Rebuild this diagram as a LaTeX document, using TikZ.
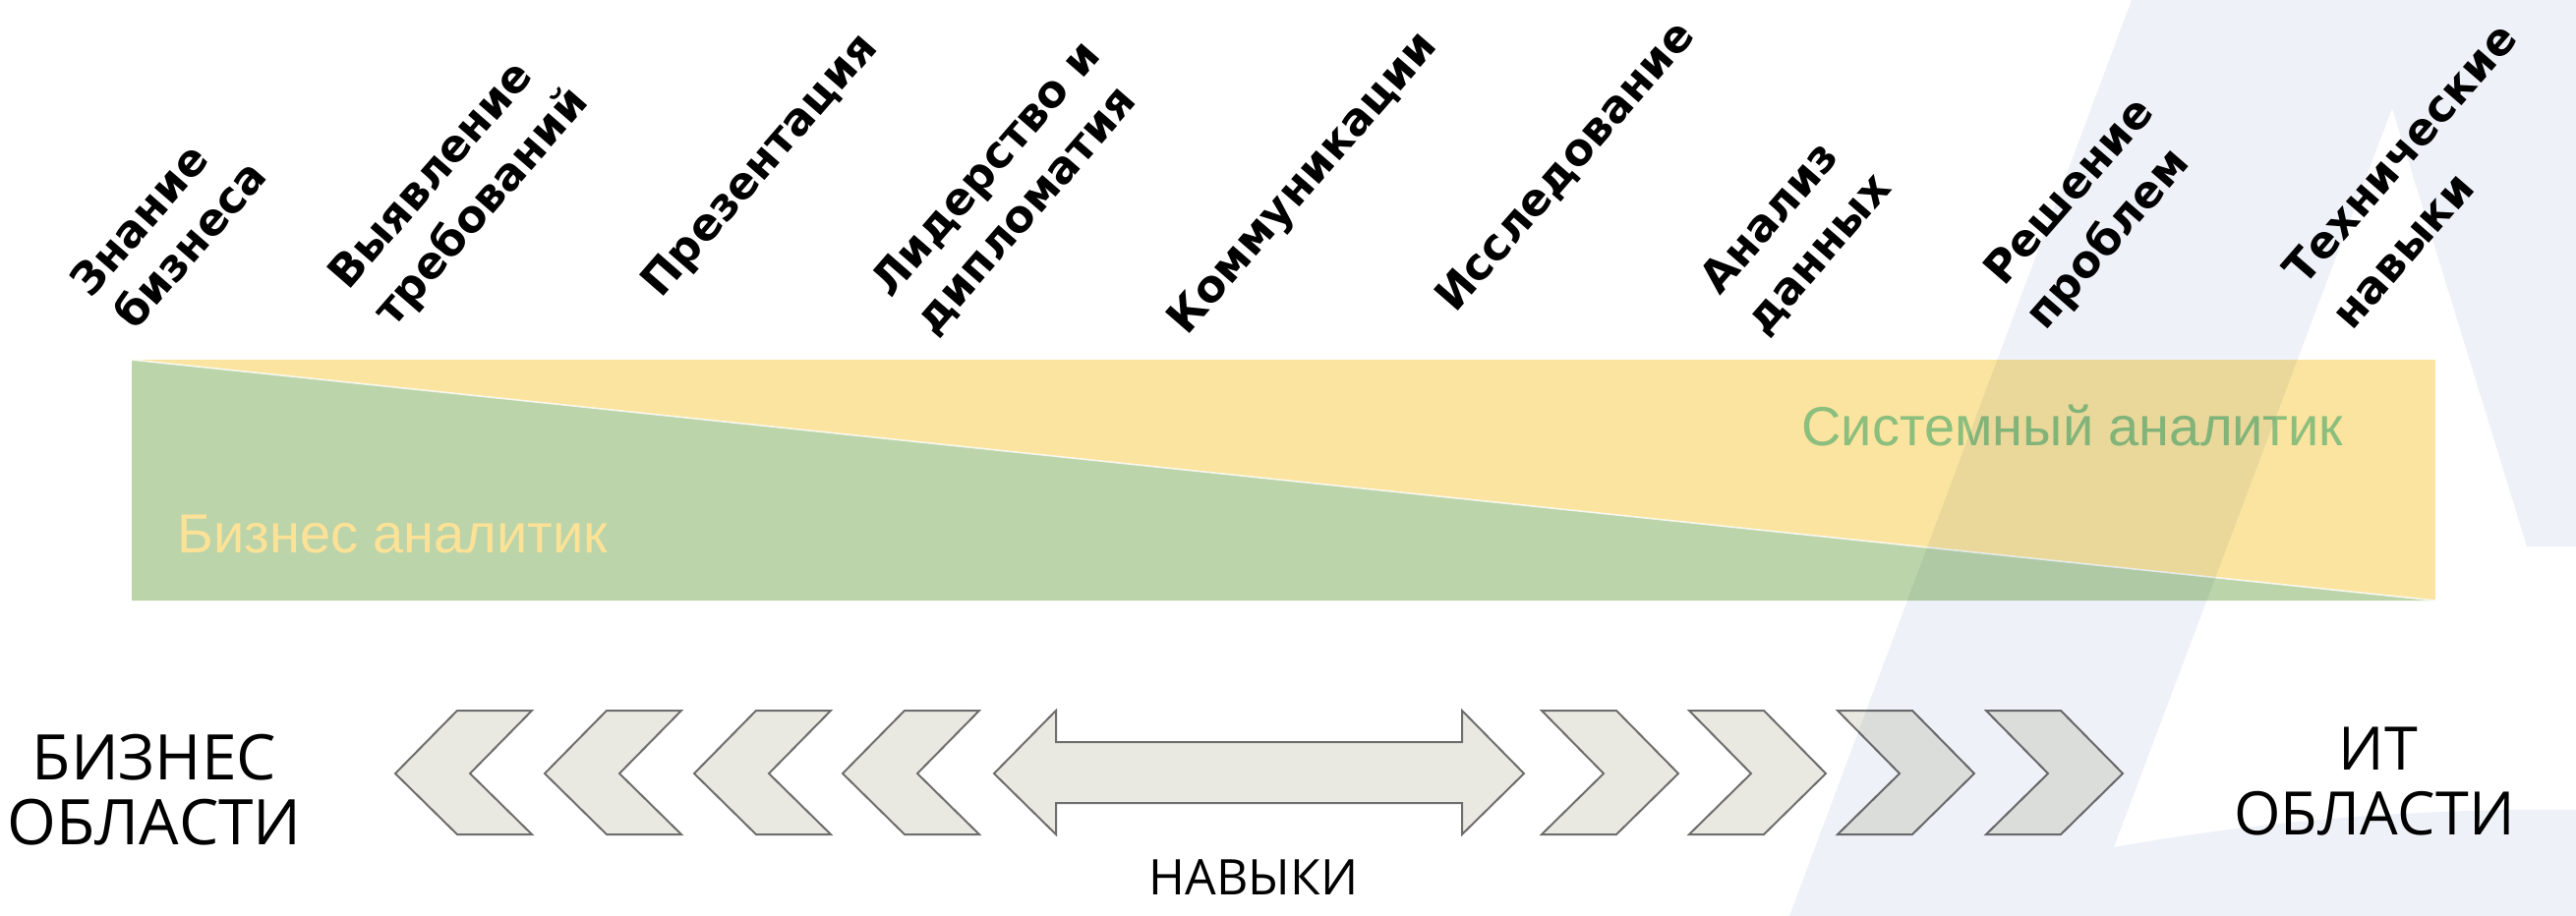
\documentclass[tikz,border=0pt]{standalone}
\usepackage{fontspec}
\setmainfont{Open Sans}
\newfontfamily\lblfont{DejaVu Sans}
\newfontfamily\bandfont{Liberation Sans}
\newfontfamily\regfont{Open Sans}
\definecolor{bandY}{RGB}{251,228,160}
\definecolor{bandG}{RGB}{188,212,170}
\definecolor{txtY}{RGB}{252,226,150}
\definecolor{txtG}{RGB}{140,190,125}
\definecolor{chevfill}{RGB}{234,233,225}
\definecolor{chevline}{RGB}{110,110,110}
\definecolor{wm}{RGB}{238,242,248}
\tikzset{
  lbl/.style={font=\lblfont\bfseries\fontsize{22.5}{26}\selectfont, rotate=49, anchor=base west, inner sep=0pt},
  bandtxt/.style={font=\bandfont\fontsize{28}{32}\selectfont, anchor=base west, inner sep=0pt},
  reg/.style={font=\regfont\fontsize{30.5}{34}\selectfont, anchor=base, inner sep=0pt},
  regl/.style={font=\regfont\fontsize{32}{36}\selectfont, anchor=base, inner sep=0pt},
  nav/.style={font=\regfont\fontsize{25}{29}\selectfont, anchor=base, inner sep=0pt},
  chev/.style={fill=chevfill, draw=chevline, line width=1pt, line join=miter},
  chevl/.pic={\path[chev] (0,0) -- (63,-64) -- (139,-64) -- (76,0) -- (139,62) -- (63,62) -- cycle;},
  chevr/.pic={\path[chev] (0,-64) -- (76,-64) -- (139,0) -- (76,62) -- (0,62) -- (63,0) -- cycle;}
}
\begin{document}
\begin{tikzpicture}[x=0.5pt,y=-0.5pt]
\useasboundingbox (0,0) rectangle (2620,932);
\fill[white] (0,0) rectangle (2620,932);

% band
\coordinate (bTL) at (134,366);
\coordinate (bTR) at (2477,366);
\coordinate (bBR) at (2477,611);
\coordinate (bBL) at (134,611);
\fill[bandY] (bTL) rectangle (bBR);
\fill[bandG] (bTL) -- (bBR) -- (bBL) -- cycle;
\draw[white, line width=0.8pt, opacity=0.8] (bTL) -- (bBR);
\node[bandtxt, text=txtY] (ba) at (180,562) {Бизнес аналитик};
\node[bandtxt, text=txtG] (sa) at (1832,453) {Системный аналитик};

% rotated labels
\node[lbl] (l1a) at (92,305) {Знание};
\node[lbl] (l1b) at (137,338) {бизнеса};
\node[lbl] (l2a) at (354,297) {Выявление};
\node[lbl] (l2b) at (400,335) {требований};
\node[lbl] (l3) at (672,305) {Презентация};
\node[lbl] (l4a) at (906,305) {Лидерство и};
\node[lbl] (l4b) at (950,343) {дипломатия};
\node[lbl] (l5) at (1207,343) {Коммуникации};
\node[lbl] (l6) at (1480,320) {Исследование};
\node[lbl] (l7a) at (1749,302) {Анализ};
\node[lbl] (l7b) at (1795,343) {данных};
\node[lbl] (l8a) at (2038,293) {Решение};
\node[lbl] (l8b) at (2080,338) {проблем};
\node[lbl] (l9a) at (2343,293) {Технические};
\node[lbl] (l9b) at (2392,338) {навыки};

% chevrons
\foreach \x in {402,554,706,857} \pic at (\x,787) {chevl};
\foreach \x in {1568,1718,1869,2020} \pic at (\x,787) {chevr};
\path[chev] (1011,787) -- (1074,723) -- (1074,755) -- (1487,755) -- (1487,723) -- (1550,787)
  -- (1487,849) -- (1487,817) -- (1074,817) -- (1074,849) -- cycle;

% region labels
\node[regl] (biz1) at (157,793) {БИЗНЕС};
\node[regl] (biz2) at (157,859) {ОБЛАСТИ};
\node[reg] (it1) at (2419,783) {ИТ};
\node[reg] (it2) at (2415,849) {ОБЛАСТИ};
\node[nav] (skills) at (1275,910) {НАВЫКИ};

% watermark
\begin{scope}[blend mode=multiply]
\fill[wm] (2168,0) -- (2620,0) -- (2620,556) -- (2570,556) -- (2433,110) -- (2150,862)
  .. controls (2300,835) and (2460,822) .. (2620,824) -- (2620,932) -- (1820,932) -- cycle;
\end{scope}
\end{tikzpicture}
\end{document}
